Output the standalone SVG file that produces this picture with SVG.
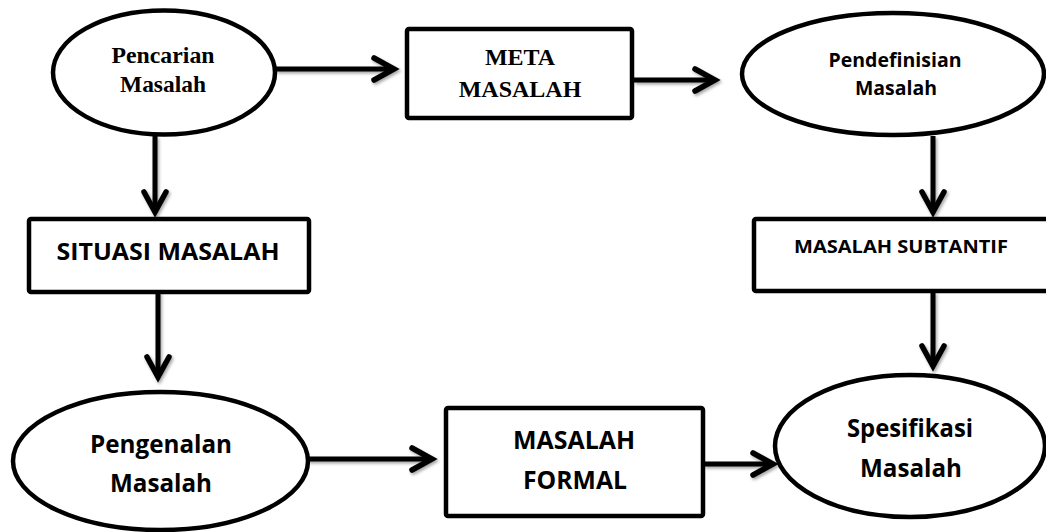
<svg xmlns="http://www.w3.org/2000/svg" width="1046" height="532" viewBox="0 0 1046 532">
<style>
.shape{fill:#fff;stroke:#000;stroke-width:4.5}
.serif{font-family:"Liberation Serif","Times New Roman",serif;font-weight:bold;fill:#000;text-anchor:middle}
.sans{font-family:"Open Sans","Noto Sans",sans-serif;font-weight:bold;fill:#000;text-anchor:middle}
.conn{fill:none;stroke:#000;stroke-width:5}
</style>
<defs>
<filter id="sh" x="-20%" y="-50%" width="140%" height="200%">
<feDropShadow dx="1.5" dy="2" stdDeviation="1.5" flood-color="#000" flood-opacity="0.35"/>
</filter>
<marker id="arr" markerUnits="userSpaceOnUse" markerWidth="40" markerHeight="40" viewBox="-30 -20 40 40" refX="0" refY="0" orient="auto" overflow="visible">
<path d="M-20,-11 L0,0 L-20,11" fill="none" stroke="#000" stroke-width="5.5" stroke-linecap="round" stroke-linejoin="miter"/>
</marker>
</defs>
<rect width="1046" height="532" fill="#fff"/>
<g id="connectors" filter="url(#sh)">
<line class="conn" x1="276" y1="69" x2="394" y2="69" marker-end="url(#arr)"/>
<line class="conn" x1="634" y1="80" x2="715" y2="80" marker-end="url(#arr)"/>
<line class="conn" x1="155" y1="136" x2="155" y2="212" marker-end="url(#arr)"/>
<line class="conn" x1="158" y1="292" x2="158" y2="377" marker-end="url(#arr)"/>
<line class="conn" x1="933" y1="136" x2="933" y2="212" marker-end="url(#arr)"/>
<line class="conn" x1="933" y1="292" x2="933" y2="366" marker-end="url(#arr)"/>
<line class="conn" x1="308" y1="459" x2="432" y2="459" marker-end="url(#arr)"/>
<line class="conn" x1="704" y1="464" x2="773" y2="464" marker-end="url(#arr)"/>
</g>
<g id="pencarian">
<ellipse class="shape" cx="164" cy="72.5" rx="111" ry="62"/>
<text class="serif" x="163" y="63" font-size="23" textLength="103" lengthAdjust="spacingAndGlyphs">Pencarian</text>
<text class="serif" x="163" y="92" font-size="23" textLength="86" lengthAdjust="spacingAndGlyphs">Masalah</text>
</g>
<g id="meta">
<rect class="shape" x="407" y="29" width="225" height="89" rx="2"/>
<text class="serif" x="520" y="65" font-size="24">META</text>
<text class="serif" x="520" y="97" font-size="24">MASALAH</text>
</g>
<g id="pendefinisian">
<ellipse class="shape" cx="893" cy="74" rx="151" ry="61"/>
<text class="sans" x="895" y="67" font-size="19" textLength="133" lengthAdjust="spacingAndGlyphs">Pendefinisian</text>
<text class="sans" x="896" y="95" font-size="19" textLength="82" lengthAdjust="spacingAndGlyphs">Masalah</text>
</g>
<g id="situasi">
<rect class="shape" x="29" y="219" width="280" height="73" rx="2"/>
<text class="sans" x="168" y="260" font-size="24" textLength="223" lengthAdjust="spacingAndGlyphs">SITUASI MASALAH</text>
</g>
<g id="subtantif">
<rect class="shape" x="754" y="219" width="300" height="72" rx="2"/>
<text class="sans" x="901" y="253" font-size="18.5" textLength="214" lengthAdjust="spacingAndGlyphs">MASALAH SUBTANTIF</text>
</g>
<g id="pengenalan">
<ellipse class="shape" cx="160.5" cy="461" rx="147.5" ry="69"/>
<text class="sans" x="161" y="453" font-size="25.5" textLength="142" lengthAdjust="spacingAndGlyphs">Pengenalan</text>
<text class="sans" x="161" y="492" font-size="25.5" textLength="102" lengthAdjust="spacingAndGlyphs">Masalah</text>
</g>
<g id="formal">
<rect class="shape" x="446" y="408" width="257" height="108" rx="2"/>
<text class="sans" x="574" y="449" font-size="25" textLength="122" lengthAdjust="spacingAndGlyphs">MASALAH</text>
<text class="sans" x="575" y="489" font-size="25" textLength="104" lengthAdjust="spacingAndGlyphs">FORMAL</text>
</g>
<g id="spesifikasi">
<ellipse class="shape" cx="910" cy="446" rx="135" ry="71"/>
<text class="sans" x="910" y="437" font-size="25" textLength="126" lengthAdjust="spacingAndGlyphs">Spesifikasi</text>
<text class="sans" x="911" y="477" font-size="25" textLength="102" lengthAdjust="spacingAndGlyphs">Masalah</text>
</g>
</svg>
